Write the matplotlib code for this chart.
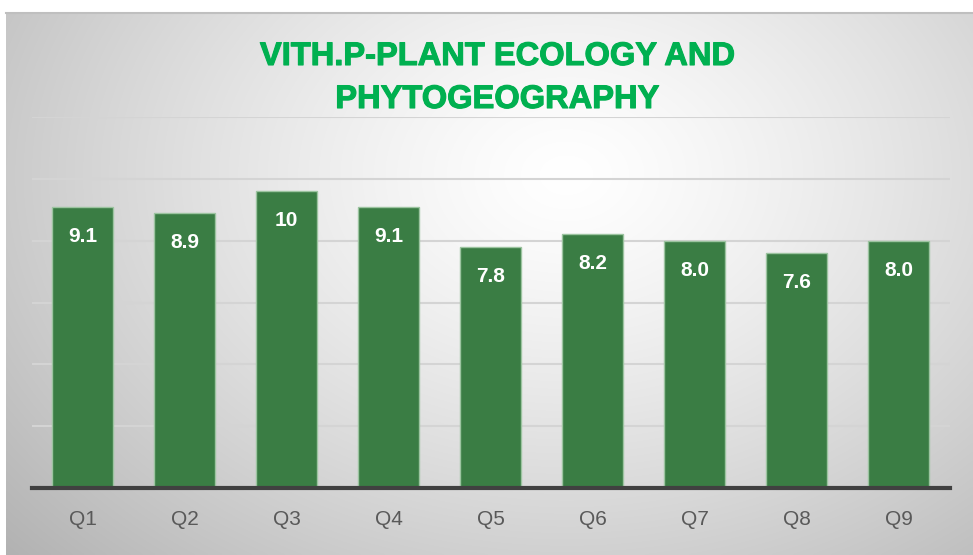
import numpy as np
from matplotlib import pyplot as plt
from matplotlib import patheffects

questions = ["Q1", "Q2", "Q3", "Q4", "Q5", "Q6", "Q7", "Q8", "Q9"]
scores = [9.1, 8.9, 9.6, 9.1, 7.8, 8.2, 8.0, 7.6, 8.0]
score_labels = ["9.1", "8.9", "10", "9.1", "7.8", "8.2", "8.0", "7.6", "8.0"]

W, H = 973, 555
fig = plt.figure(figsize=(W / 100, H / 100), dpi=100)
fig.patch.set_facecolor("white")

# radial gradient background of the chart area
bg = fig.add_axes([6 / W, 0, 1 - 6 / W, 1 - 12 / H])
gx, gy = np.meshgrid(np.linspace(0, 1, 400), np.linspace(0, 1, 240))
r = np.sqrt(((gx - 0.58) / 0.72) ** 2 + ((gy - 0.3) / 0.95) ** 2)
shade = 1.0 - 0.27 * np.clip(r, 0, 1.2) ** 1.3
bg.imshow(np.dstack([shade] * 3), aspect="auto", extent=[0, 1, 1, 0], interpolation="bilinear")
bg.axis("off")
fig.add_artist(plt.Line2D([6 / W, 1], [1 - 12.5 / H, 1 - 12.5 / H], color="#bfbfbf", lw=1.5))

ax = fig.add_axes([31.5 / W, (H - 488) / H, 918 / W, (488 - 117) / H])
ax.patch.set_alpha(0)
x = np.arange(len(questions))
bars = ax.bar(x, scores, width=0.6, color="#3a7d44", edgecolor="#9cc4a0", linewidth=1, zorder=3)
for b, lab in zip(bars, score_labels):
    ax.text(b.get_x() + b.get_width() / 2, b.get_height() - 0.95, lab, ha="center", va="center",
            color="white", fontsize=15, fontweight="bold", family="Liberation Sans", zorder=4)

ax.set_xlim(-0.5, len(questions) - 0.5)
ax.set_ylim(0, 12)
ax.set_yticks(np.arange(0, 13, 2))
ax.yaxis.grid(True, color="#d4d4d4", lw=1.5, zorder=0)
ax.tick_params(axis="y", length=0, labelleft=False)
ax.tick_params(axis="x", length=0, pad=16, labelsize=15, labelcolor="#595959")
ax.set_xticks(x)
ax.set_xticklabels(questions, family="Liberation Sans")
for s in ["top", "right", "left"]:
    ax.spines[s].set_visible(False)
ax.spines["bottom"].set_color("#404040")
ax.spines["bottom"].set_linewidth(3)
ax.spines["bottom"].set_zorder(5)

fig.text(497 / W, 1 - 78 / H, "VITH.P-PLANT ECOLOGY AND\nPHYTOGEOGRAPHY", ha="center", va="center",
         color="#00b050", fontsize=23.5, fontweight="bold", family="Liberation Sans", linespacing=1.5,
         path_effects=[patheffects.withStroke(linewidth=0.8, foreground="#00b050")])

fig.savefig("out.png", dpi=100)
